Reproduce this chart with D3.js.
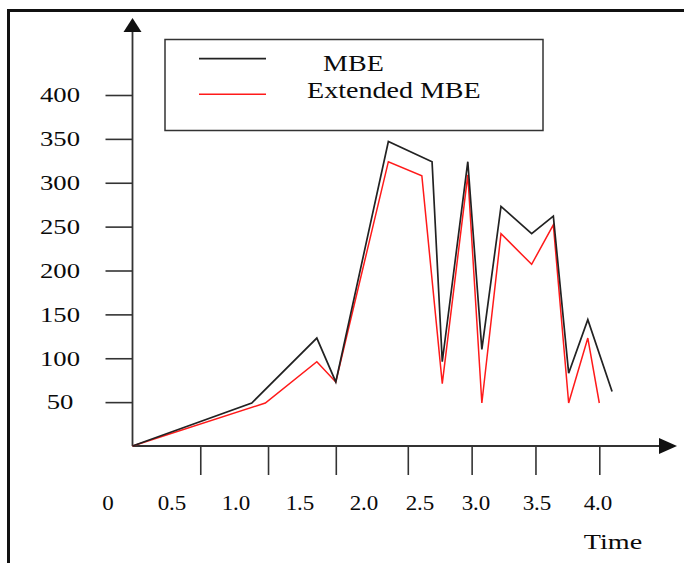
<!DOCTYPE html>
<head>
<meta charset="utf-8">
<script src="https://d3js.org/d3.v7.min.js"></script>
<style>
    body { margin:0; background:#fff; }
    text { font-family: "Liberation Serif", "Times New Roman", serif; fill: #0a0a0a; }
    .frame { stroke: #111; stroke-width: 3; fill: none; }
    .axisLine { stroke: #333; stroke-width: 1.8; fill: none; }
    .tick line { stroke: #333; stroke-width: 1.6; }
    .mbe { stroke: #222; stroke-width: 1.7; fill: none; }
    .ext { stroke: #ff1a1a; stroke-width: 1.5; fill: none; }
    .legendBox { fill: none; stroke: #333; stroke-width: 1.5; }
</style>
</head>
<body>
<script>
    // values
    var timeLabels = ["0", "0.5", "1.0", "1.5", "2.0", "2.5", "3.0", "3.5", "4.0"];
    var xTicks = [0.5, 1.0, 1.5, 2.0, 2.5, 3.0, 3.5];
    var yTicks = [50, 100, 150, 200, 250, 300, 350, 400];
    var seriesNames = ["MBE", "Extended MBE"];

    var mbeTime  = [0, 0.88, 1.36, 1.5, 1.865, 2.19, 2.27, 2.47, 2.58, 2.73, 2.97, 3.14, 3.26, 3.41, 3.6];
    var mbeValue = [0, 49, 123, 73, 347, 324, 96, 324, 110, 273, 242, 262, 83, 144, 62];
    var extTime  = [0, 0.98, 1.36, 1.5, 1.865, 2.11, 2.27, 2.47, 2.58, 2.73, 2.97, 3.14, 3.26, 3.41, 3.5];
    var extValue = [0, 49, 96, 73, 324, 308, 71, 309, 49, 242, 207, 252, 49, 123, 49];

    var width = 684, height = 563;

    var svg = d3.select("body").append("svg")
        .attr("width", width)
        .attr("height", height);

    // the drawing is hand made, so the scales are a little uneven
    var x = d3.scaleLinear().domain([0, 1.5, 2, 3.5]).range([132.5, 335.8, 407.8, 599.3]);
    var y = d3.scaleLinear().domain([0, 400]).range([446, 95]);
    var labelX = d3.scaleLinear().domain([0, 2, 3, 4]).range([108, 364, 476, 598]);

    // text in the picture is a bit wider than the font
    function stretch(sel, px, py, sx) {
        sel.attr("transform", "translate(" + px + "," + py + ") scale(" + sx + ",1)");
    }

    // frame
    svg.append("path").attr("class", "frame")
        .attr("d", "M8.5," + height + "V10.5H" + width);

    // x ticks
    svg.append("g")
        .attr("transform", "translate(0," + y(0) + ")")
        .call(d3.axisBottom(x).tickValues(xTicks).tickSize(29).tickFormat(""))
        .call(g => g.select(".domain").remove());

    // y ticks
    svg.append("g")
        .attr("transform", "translate(" + x(0) + ",0)")
        .call(d3.axisLeft(y).tickValues(yTicks).tickSize(27).tickFormat(""))
        .call(g => g.select(".domain").remove());

    // axes with arrows
    svg.append("line").attr("class", "axisLine")
        .attr("x1", x(0)).attr("y1", y(0)).attr("x2", x(0)).attr("y2", 30);
    svg.append("path").attr("fill", "#111")
        .attr("d", "M" + x(0) + ",18L" + (x(0) - 9) + ",32L" + (x(0) + 9) + ",32Z");
    svg.append("line").attr("class", "axisLine")
        .attr("x1", x(0)).attr("y1", y(0)).attr("x2", 662).attr("y2", y(0));
    svg.append("path").attr("fill", "#111")
        .attr("d", "M677," + y(0) + "L659," + (y(0) - 8) + "L659," + (y(0) + 8) + "Z");

    // y labels
    svg.selectAll(".ylab")
        .data(yTicks)
        .enter()
        .append("text")
        .attr("class", "ylab")
        .attr("text-anchor", "middle")
        .attr("dy", "0.35em")
        .style("font-size", "21px")
        .each(function(d) { stretch(d3.select(this), 60, y(d), 1.27); })
        .text(d => d);

    // time labels (not lined up with the ticks in the original)
    svg.selectAll(".xlab")
        .data(timeLabels)
        .enter()
        .append("text")
        .attr("class", "xlab")
        .attr("text-anchor", "middle")
        .style("font-size", "20px")
        .each(function(d) { stretch(d3.select(this), labelX(+d), 510, 1.15); })
        .text(d => d);

    svg.append("text")
        .attr("text-anchor", "middle")
        .style("font-size", "22px")
        .call(stretch, 613, 549, 1.28)
        .text("Time");

    // series
    var line = d3.line()
        .x(d => x(d[0]))
        .y(d => y(d[1]));

    svg.append("path").attr("class", "ext")
        .attr("d", line(d3.zip(extTime, extValue)));
    svg.append("path").attr("class", "mbe")
        .attr("d", line(d3.zip(mbeTime, mbeValue)));

    // legend
    svg.append("rect").attr("class", "legendBox")
        .attr("x", 165).attr("y", 39.5).attr("width", 378).attr("height", 91);

    var legendRows = [
        { name: seriesNames[0], cls: "mbe", ly: 58.7, tx: 323, ty: 71 },
        { name: seriesNames[1], cls: "ext", ly: 94.3, tx: 307, ty: 98 }
    ];
    legendRows.forEach(function(r) {
        svg.append("line").attr("class", r.cls)
            .attr("x1", 199).attr("x2", 266).attr("y1", r.ly).attr("y2", r.ly);
        svg.append("text")
            .style("font-size", "23px")
            .call(stretch, r.tx, r.ty, 1.22)
            .text(r.name);
    });
</script>
</body>
